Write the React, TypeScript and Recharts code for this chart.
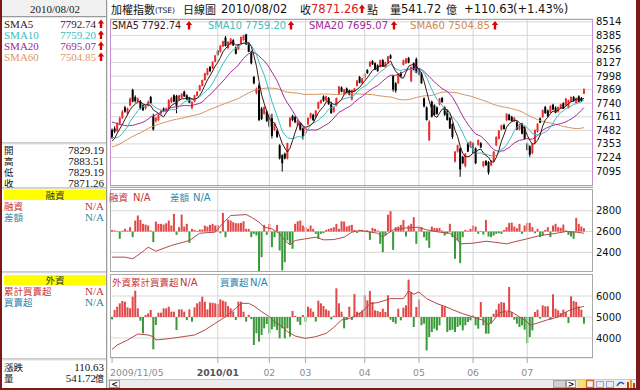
import { ComposedChart, Bar, Line, XAxis, YAxis, CartesianGrid, ReferenceLine } from 'recharts';

const LATIN = '"DejaVu Sans", Verdana, sans-serif';
const CJK = '"Noto Sans CJK TC", "Noto Sans CJK SC", sans-serif';
const SERIF = '"Liberation Serif", "Times New Roman", serif';

// closes before 2009/11/05, only used to seed the moving averages
const priorCloses = [
  7000, 6950, 6890, 6820, 6760, 6850, 6910, 6970, 7020, 7060, 6990, 6950, 6925,
  6880, 6930, 6990, 7040, 7100, 7180, 7240, 7290, 7320, 7350, 7390, 7440, 7480, 7510, 7470, 7440, 7400, 7420, 7470, 7500, 7509,
  7400, 7350, 7380, 7450, 7540, 7600, 7650, 7690, 7720, 7750, 7790, 7770, 7740, 7700, 7650, 7600, 7560, 7510, 7460, 7400, 7360, 7340,
  7300, 7390, 7450,
];

// daily candles 2009/11/05 .. 2010/08/02 : [open, high, low, close]
const candles = [
  [7485, 7500, 7400, 7415], [7500, 7520, 7455, 7470], [7475, 7560, 7465, 7545], [7545, 7615, 7530, 7600], [7600, 7675, 7590, 7660],
  [7700, 7715, 7650, 7660], [7640, 7700, 7625, 7690], [7720, 7795, 7710, 7785], [7866, 7878, 7750, 7755], [7800, 7815, 7745, 7760],
  [7755, 7795, 7740, 7785], [7755, 7770, 7680, 7690], [7720, 7730, 7665, 7675], [7690, 7725, 7680, 7720], [7720, 7765, 7710, 7755],
  [7800, 7810, 7735, 7740], [7620, 7640, 7480, 7490], [7570, 7610, 7555, 7600], [7580, 7635, 7570, 7625], [7640, 7680, 7630, 7670],
  [7690, 7700, 7655, 7665], [7660, 7700, 7650, 7690], [7690, 7780, 7685, 7770], [7750, 7800, 7740, 7790], [7815, 7825, 7750, 7755],
  [7810, 7820, 7645, 7715], [7770, 7820, 7760, 7815], [7790, 7835, 7785, 7830], [7850, 7860, 7800, 7805], [7815, 7825, 7770, 7775],
  [7790, 7800, 7740, 7745], [7695, 7760, 7680, 7750], [7755, 7820, 7750, 7815], [7810, 7855, 7805, 7850], [7860, 7915, 7855, 7910],
  [7905, 7965, 7900, 7960], [7960, 8030, 7955, 8025], [8010, 8075, 8005, 8070], [8085, 8095, 8035, 8045], [8070, 8140, 8065, 8135],
  [8135, 8200, 8130, 8195], [8240, 8250, 8190, 8200], [8230, 8295, 8220, 8290], [8280, 8335, 8275, 8330], [8365, 8380, 8280, 8285],
  [8265, 8330, 8255, 8325], [8300, 8360, 8295, 8355], [8340, 8350, 8285, 8290], [8270, 8280, 8205, 8210], [8255, 8305, 8245, 8300],
  [8310, 8375, 8305, 8370], [8340, 8392, 8335, 8385], [8395, 8400, 8295, 8300], [8310, 8320, 8225, 8230], [8230, 8240, 8110, 8120],
  [7990, 8000, 7920, 7930], [7835, 7890, 7825, 7880], [7910, 7930, 7570, 7580], [7690, 7705, 7580, 7590], [7640, 7710, 7630, 7705],
  [7660, 7670, 7560, 7570], [7630, 7640, 7510, 7520], [7600, 7640, 7405, 7430], [7485, 7550, 7475, 7545], [7480, 7490, 7410, 7420],
  [7340, 7350, 7205, 7215], [7245, 7255, 7090, 7170], [7260, 7270, 7205, 7215], [7215, 7365, 7205, 7360], [7520, 7610, 7510, 7600],
  [7620, 7630, 7570, 7580], [7610, 7620, 7550, 7560], [7530, 7585, 7520, 7575], [7545, 7555, 7480, 7490], [7500, 7510, 7395, 7420],
  [7455, 7515, 7445, 7510], [7540, 7605, 7530, 7600], [7600, 7650, 7590, 7645], [7630, 7640, 7570, 7580], [7610, 7675, 7600, 7670],
  [7690, 7755, 7680, 7750], [7740, 7775, 7735, 7770], [7805, 7815, 7755, 7765], [7765, 7810, 7755, 7805], [7790, 7800, 7725, 7730],
  [7730, 7755, 7640, 7645], [7660, 7710, 7650, 7700], [7720, 7795, 7710, 7790], [7830, 7905, 7820, 7900], [7890, 7900, 7845, 7850],
  [7830, 7875, 7820, 7870], [7880, 7890, 7835, 7840], [7860, 7870, 7815, 7820], [7775, 7870, 7765, 7865], [7850, 7885, 7845, 7880],
  [7905, 7960, 7900, 7955], [7990, 8000, 7930, 7935], [7930, 7980, 7920, 7975], [7975, 8025, 7970, 8020], [8055, 8065, 8020, 8025],
  [8090, 8140, 8085, 8135], [8140, 8150, 8105, 8110], [8120, 8130, 8055, 8060], [8100, 8110, 8040, 8045], [8085, 8155, 8080, 8150],
  [8150, 8160, 8085, 8090], [8085, 8135, 8080, 8130], [8120, 8190, 8115, 8185], [8195, 8205, 8160, 8165], [8000, 8010, 7850, 7870],
  [7930, 7940, 7840, 7860], [7930, 8025, 7925, 8020], [8030, 8040, 7990, 7995], [8105, 8155, 8100, 8150], [8120, 8170, 8115, 8165],
  [8170, 8180, 8120, 8125], [7950, 8090, 7940, 8085], [8120, 8130, 8055, 8060], [8160, 8175, 8025, 8030], [8065, 8075, 8005, 8010],
  [8025, 8035, 7925, 7930], [7787, 7795, 7700, 7710], [7700, 7710, 7575, 7580], [7390, 7580, 7380, 7565], [7755, 7765, 7605, 7612],
  [7720, 7730, 7620, 7630], [7700, 7710, 7630, 7640], [7730, 7790, 7720, 7785], [7790, 7800, 7745, 7750], [7700, 7710, 7620, 7630],
  [7670, 7680, 7575, 7580], [7600, 7610, 7495, 7500], [7540, 7550, 7400, 7420], [7185, 7285, 7175, 7280], [7280, 7345, 7270, 7340],
  [7310, 7320, 7040, 7110], [7230, 7240, 7160, 7170], [7140, 7265, 7130, 7260], [7360, 7370, 7275, 7280], [7325, 7380, 7315, 7375],
  [7360, 7370, 7260, 7265], [7310, 7320, 7160, 7170], [7345, 7395, 7335, 7390], [7360, 7370, 7315, 7320], [7140, 7190, 7130, 7185],
  [7190, 7200, 7145, 7150], [7180, 7190, 7060, 7080], [7150, 7200, 7140, 7195], [7190, 7285, 7180, 7280], [7340, 7425, 7330, 7420],
  [7400, 7485, 7395, 7480], [7490, 7535, 7480, 7530], [7530, 7545, 7490, 7495], [7580, 7645, 7570, 7640], [7630, 7640, 7575, 7580],
  [7610, 7620, 7565, 7570], [7570, 7610, 7560, 7600], [7560, 7570, 7485, 7490], [7490, 7545, 7480, 7540], [7545, 7555, 7445, 7450],
  [7510, 7520, 7395, 7400], [7355, 7365, 7290, 7295], [7330, 7340, 7230, 7250], [7265, 7360, 7255, 7355], [7360, 7490, 7350, 7485],
  [7470, 7550, 7460, 7545], [7595, 7605, 7550, 7555], [7610, 7680, 7600, 7675], [7705, 7715, 7640, 7645], [7670, 7680, 7610, 7615],
  [7650, 7720, 7640, 7715], [7725, 7735, 7675, 7680], [7700, 7710, 7645, 7650], [7660, 7710, 7650, 7705], [7690, 7735, 7685, 7730],
  [7740, 7750, 7685, 7690], [7720, 7790, 7715, 7785], [7695, 7775, 7690, 7770], [7755, 7805, 7750, 7800], [7800, 7810, 7755, 7760],
  [7740, 7795, 7735, 7790], [7805, 7815, 7750, 7755], [7790, 7800, 7750, 7760.63], [7829.19, 7883.51, 7829.19, 7871.26],
];

// 融資 pane: daily bars around the 2600 line, plus its slow line as [day index, value]
const marginBars = [
  2615, 2610, 2605, 2530, 2608, 2626, 2610, 2642, 2546, 2706,
  2754, 2712, 2674, 2667, 2658, 2610, 2498, 2696, 2674, 2674,
  2667, 2680, 2706, 2658, 2770, 2568, 2642, 2763, 2648, 2674,
  2491, 2626, 2616, 2606, 2619, 2619, 2658, 2648, 2664, 2674,
  2658, 2664, 2584, 2779, 2546, 2715, 2706, 2690, 2680, 2680,
  2683, 2699, 2626, 2626, 2546, 2578, 2562, 2220, 2354, 2664,
  2568, 2674, 2450, 2546, 2664, 2418, 2226, 2305, 2514, 2482,
  2434, 2674, 2699, 2706, 2658, 2642, 2626, 2658, 2626, 2578,
  2530, 2578, 2584, 2616, 2626, 2632, 2642, 2674, 2626, 2699,
  2696, 2648, 2658, 2664, 2616, 2587, 2616, 2616, 2610, 2613,
  2520, 2635, 2626, 2610, 2482, 2402, 2562, 2763, 2795, 2424,
  2642, 2648, 2664, 2712, 2552, 2658, 2674, 2738, 2482, 2635,
  2642, 2546, 2514, 2443, 2648, 2635, 2632, 2635, 2610, 2562,
  2578, 2674, 2546, 2338, 2514, 2296, 2546, 2616, 2608, 2626,
  2658, 2648, 2578, 2606, 2571, 2712, 2552, 2546, 2562, 2578,
  2584, 2578, 2616, 2642, 2683, 2686, 2648, 2632, 2674, 2578,
  2658, 2683, 2683, 2642, 2584, 2626, 2546, 2562, 2616, 2642,
  2546, 2658, 2674, 2642, 2635, 2667, 2610, 2568, 2552, 2530,
  2731, 2674, 2648, 2632,
];
const marginLine = [
  [0, 2354], [5, 2354], [8, 2338], [12, 2408], [14, 2450], [17, 2411], [23, 2466], [30, 2514], [34, 2584], [40, 2594],
  [43, 2680], [46, 2754], [52, 2763], [54, 2738], [57, 2690], [59, 2642], [62, 2626], [65, 2578], [67, 2514], [69, 2472],
  [71, 2514], [75, 2530], [79, 2546], [82, 2520], [86, 2523], [90, 2546], [93, 2594], [96, 2610], [103, 2584], [105, 2546],
  [107, 2584], [109, 2616], [114, 2635], [119, 2642], [122, 2616], [127, 2594], [131, 2584], [134, 2520], [135, 2482], [140, 2488],
  [145, 2507], [148, 2498], [153, 2482], [157, 2507], [161, 2530], [166, 2562], [171, 2578], [176, 2600], [180, 2594], [183, 2584],
];

// 外資 pane: daily bars around the 5000 line, plus its slow line
const foreignBars = [
  4889, 5333, 5492, 5651, 5762, 5730, 5460, 5413, 5968, 6254,
  5413, 4825, 4222, 5095, 5175, 5333, 3461, 4619, 5206, 5206,
  5413, 5413, 5492, 5254, 5254, 4381, 5365, 5365, 5254, 4857,
  5365, 4778, 5460, 5651, 5730, 5968, 5730, 5365, 5682, 5682,
  5651, 5619, 5841, 5778, 5730, 5524, 5413, 5254, 4857, 5730,
  5730, 5254, 4778, 5095, 4900, 3667, 4222, 3826, 4143, 4460,
  4667, 4222, 4413, 4540, 4381, 3984, 4460, 3984, 4460, 4064,
  5286, 5050, 4778, 4619, 5095, 4778, 5492, 5413, 5254, 4778,
  5778, 5651, 5524, 5365, 5302, 4889, 5060, 6365, 5651, 5254,
  4460, 4857, 5492, 4857, 6095, 5254, 5206, 5318, 6034, 5795,
  6240, 5716, 5318, 5286, 5239, 5398, 5239, 6034, 4873, 4761,
  4682, 5398, 4841, 5445, 5556, 6780, 6193, 4523, 5477, 5826,
  4603, 4682, 3410, 4046, 4285, 4444, 4364, 4603, 5556, 5509,
  4285, 4364, 4396, 4285, 4523, 4603, 4364, 4603, 4762, 4841,
  5080, 4603, 4444, 5715, 4603, 4205, 4205, 4682, 5159, 5350,
  5636, 5715, 5683, 5238, 6430, 5238, 4873, 4682, 4523, 4603,
  4396, 3760, 4046, 4364, 5238, 5350, 4920, 5556, 5509, 5509,
  4873, 6081, 5397, 5318, 5191, 5350, 5238, 4714, 5986, 5763,
  5716, 5509, 5350, 4682,
];
const foreignLine = [
  [0, 3461], [2, 3667], [6, 3905], [10, 4191], [14, 4143], [16, 4064], [17, 3905], [23, 3984], [32, 4143], [36, 4381],
  [40, 4698], [44, 5016], [48, 5413], [50, 5651], [53, 5651], [55, 5524], [58, 5254], [61, 5016], [63, 4778], [66, 4540],
  [68, 4302], [71, 4095], [75, 3984], [79, 4064], [83, 4222], [86, 4508], [89, 4857], [92, 4937], [94, 5016], [97, 5260],
  [100, 5636], [103, 5684], [108, 5875], [113, 5875], [115, 6240], [117, 6081], [119, 6193], [122, 5875], [126, 5636], [129, 5509],
  [132, 5350], [136, 5159], [140, 5000], [144, 4841], [146, 4634], [148, 4841], [150, 5191], [153, 5286], [155, 5239], [158, 5000],
  [161, 4762], [162, 4603], [165, 4714], [169, 4873], [173, 5000], [176, 5239], [178, 5350], [182, 5477], [183, 5509],
];

const monthTicks = [0, 41, 61, 75, 98, 119, 140, 161];
const monthLabels = ['2009/11/05', '2010/01', '02', '03', '04', '05', '06', '07'];
const priceTicks = [7095, 7224, 7353, 7482, 7611, 7740, 7869, 7998, 8127, 8256, 8385, 8514];
const marginTicks = [2400, 2600, 2800];
const foreignTicks = [4000, 5000, 6000];

const allCloses = [...priorCloses, ...candles.map((c) => c[3])];
const sma = (n: number, i: number) => {
  const end = priorCloses.length + i;
  let s = 0;
  for (let k = end - n + 1; k <= end; k++) s += allCloses[k];
  return s / n;
};

const priceData = candles.map((c, i) => ({
  i, open: c[0], high: c[1], low: c[2], close: c[3],
  s5: sma(5, i), s10: sma(10, i), s20: sma(20, i), s60: sma(60, i),
}));

const toPane = (bars: number[], line: number[][]) => {
  const m = new Map(line.map(([i, v]) => [i, v]));
  return bars.map((v, i) => ({ i, v, line: m.has(i) ? m.get(i) : null }));
};
const marginData = toPane(marginBars, marginLine);
const foreignData = toPane(foreignBars, foreignLine);

const XDOMAIN = [-0.8, 186.5];

const Candle = (p: any) => {
  const { x, y, width, height, payload } = p;
  if (!payload || height == null || isNaN(height)) return null;
  const top = Math.min(y, y + height);
  const span = Math.abs(height);
  const k = span / (payload.high - payload.low);
  const py = (v: number) => top + (payload.high - v) * k;
  const cx = x + width / 2;
  const up = payload.close >= payload.open;
  const color = up ? '#e52d2d' : '#000000';
  const bt = py(Math.max(payload.open, payload.close));
  const bb = py(Math.min(payload.open, payload.close));
  return (
    <g>
      <line x1={cx} x2={cx} y1={top} y2={top + span} stroke={color} strokeWidth={1} />
      <rect x={cx - 1} y={bt} width={2} height={Math.max(bb - bt, 1)} fill={color} />
    </g>
  );
};

const subBar = (base: number) => (p: any) => {
  if (!p.payload || p.height == null || isNaN(p.height)) return null;
  const top = Math.min(p.y, p.y + p.height);
  const cx = p.x + p.width / 2;
  const up = p.payload.v >= base;
  return <rect x={cx - 1} y={top} width={2} height={Math.abs(p.height)} fill={up ? '#e24848' : '#3a9a3a'} />;
};

const DateTick = (p: any) => {
  const idx = monthTicks.indexOf(p.payload.value);
  const first = idx === 0;
  const bold = p.payload.value === 41;
  return (
    <text x={first ? p.x - 2 : p.x} y={p.y + 7} textAnchor={first ? 'start' : 'middle'} dominantBaseline="central"
      fontSize={9.3} fontFamily={LATIN} fontWeight={bold ? 'bold' : 'normal'} fill={bold ? '#555' : '#8c8c8c'}>
      {monthLabels[idx]}
    </text>
  );
};

const yTick = { fontSize: 10, fill: '#111', fontFamily: LATIN };

const Up = ({ x, y }: { x: number; y: number }) => (
  <path d={`M${x} ${y - 4.5} L${x + 3.2} ${y - 0.5} L${x + 1.2} ${y - 0.5} L${x + 1.2} ${y + 4} L${x - 1.2} ${y + 4} L${x - 1.2} ${y - 0.5} L${x - 3.2} ${y - 0.5} Z`} fill="#e00000" />
);

const T = (p: any) => (
  <text x={p.x} y={p.y} fontSize={p.size ?? 10} fontFamily={p.f ?? LATIN} fill={p.c ?? '#111'} textAnchor={p.a ?? 'start'}
    dominantBaseline="central" fontWeight={p.w ?? 'normal'} textLength={p.len} lengthAdjust={p.len ? 'spacingAndGlyphs' : undefined}>
    {p.children}
  </text>
);

const Sep = ({ y }: { y: number }) => (
  <g>
    <line x1={2} x2={106} y1={y} y2={y} stroke="#9a9a9a" />
    <line x1={2} x2={106} y1={y + 1} y2={y + 1} stroke="#e4e4e4" />
  </g>
);

const App = () => {
  return (
    <div style={{ position: 'absolute', left: 0, top: 0, width: 640, height: 390, background: '#fff', overflow: 'hidden' }}>
      {/* price pane */}
      <div style={{ position: 'absolute', left: 0, top: 9 }}>
        <ComposedChart width={640} height={178} data={priceData} margin={{ top: 10, right: 0, bottom: 0, left: 110 }}>
          <CartesianGrid stroke="#d8d8d8" vertical={false} />
          <XAxis dataKey="i" type="number" domain={XDOMAIN} ticks={monthTicks} hide />
          <YAxis orientation="right" width={47} domain={[6943, 8541.5]} ticks={priceTicks} interval={0}
            tickLine={false} axisLine={false} tickSize={0} tickMargin={3} tick={yTick} />
          {monthTicks.slice(1).map((t) => <ReferenceLine key={t} x={t} stroke="#d4d4d4" />)}
          <Bar dataKey={(d: any) => [d.low, d.high]} shape={Candle} isAnimationActive={false} />
          <Line dataKey="s60" type="linear" stroke="#d4925c" strokeWidth={1} dot={false} isAnimationActive={false} />
          <Line dataKey="s20" type="linear" stroke="#a02a98" strokeWidth={1} dot={false} isAnimationActive={false} />
          <Line dataKey="s10" type="linear" stroke="#3cbcc0" strokeWidth={1} dot={false} isAnimationActive={false} />
          <Line dataKey="s5" type="linear" stroke="#3c1414" strokeWidth={1} dot={false} isAnimationActive={false} />
        </ComposedChart>
      </div>

      {/* 融資 pane */}
      <div style={{ position: 'absolute', left: 0, top: 189 }}>
        <ComposedChart width={640} height={83} data={marginData} margin={{ top: 0, right: 0, bottom: 0, left: 110 }}>
          <CartesianGrid stroke="#d8d8d8" vertical={false} />
          <XAxis dataKey="i" type="number" domain={XDOMAIN} ticks={monthTicks} hide />
          <YAxis orientation="right" width={47} domain={[2211, 3009]} ticks={marginTicks} interval={0}
            tickLine={false} axisLine={false} tickSize={0} tickMargin={3} tick={yTick} />
          {monthTicks.slice(1).map((t) => <ReferenceLine key={t} x={t} stroke="#d4d4d4" />)}
          <Bar dataKey={(d: any) => [2600, d.v]} shape={subBar(2600)} isAnimationActive={false} />
          <Line dataKey="line" type="linear" connectNulls stroke="#b24a4a" strokeWidth={1} dot={false} isAnimationActive={false} />
        </ComposedChart>
      </div>

      {/* 外資 pane with the date axis */}
      <div style={{ position: 'absolute', left: 0, top: 274 }}>
        <ComposedChart width={640} height={106} data={foreignData} margin={{ top: 0, right: 0, bottom: 0, left: 110 }}>
          <CartesianGrid stroke="#d8d8d8" vertical={false} />
          <XAxis dataKey="i" type="number" domain={XDOMAIN} ticks={monthTicks} interval={0} height={22}
            tickSize={5} tickMargin={2} axisLine={false} tickLine={{ stroke: '#a8a8a8' }} tick={DateTick} />
          <YAxis orientation="right" width={47} domain={[3048, 7048]} ticks={foreignTicks} interval={0}
            tickLine={false} axisLine={false} tickSize={0} tickMargin={3} tick={yTick} />
          {monthTicks.slice(1).map((t) => <ReferenceLine key={t} x={t} stroke="#d4d4d4" />)}
          <Bar dataKey={(d: any) => [5000, d.v]} shape={subBar(5000)} isAnimationActive={false} />
          <Line dataKey="line" type="linear" connectNulls stroke="#b24a4a" strokeWidth={1} dot={false} isAnimationActive={false} />
        </ComposedChart>
      </div>

      <svg width={640} height={390} style={{ position: 'absolute', left: 0, top: 0, pointerEvents: 'none' }}>
        {/* pane borders */}
        <rect x={110.5} y={19.5} width={482} height={166} fill="none" stroke="#c88ed0" />
        <line x1={110} x2={593} y1={187.5} y2={187.5} stroke="#c88ed0" />
        <rect x={110.5} y={189.5} width={482} height={82} fill="none" stroke="#a8a8a8" />
        <rect x={110.5} y={274.5} width={482} height={83} fill="none" stroke="#a8a8a8" />

        {/* title bar */}
        <T x={111} y={9} f={CJK} size={11}>加權指數</T>
        <T x={155} y={10} size={7.5}>(TSE)</T>
        <T x={183} y={9} f={CJK} size={11}>日線圖</T>
        <T x={221} y={9} size={11.5}>2010/08/02</T>
        <T x={300} y={9} f={CJK} size={11}>收</T>
        <T x={311} y={9} size={11.5} c="#d41c1c">7871.26</T>
        <Up x={362} y={9} />
        <T x={367} y={9} f={CJK} size={11}>點</T>
        <T x={390} y={9} f={CJK} size={11}>量</T>
        <T x={401} y={9} size={11.5}>541.72</T>
        <T x={446} y={9} f={CJK} size={11}>億</T>
        <T x={464} y={9} size={11.5}>+110.63</T>
        <T x={513} y={9} size={11.5}>(+1.43%)</T>

        {/* price pane legend */}
        <T x={112} y={25.5} size={9.6} c="#3a1616" len={69}>SMA5 7792.74</T>
        <Up x={189} y={25.5} />
        <T x={208} y={25.5} size={9.6} c="#3cbcc0" len={78}>SMA10 7759.20</T>
        <Up x={291} y={25.5} />
        <T x={309} y={25.5} size={9.6} c="#a02a98" len={79}>SMA20 7695.07</T>
        <Up x={394} y={25.5} />
        <T x={410} y={25.5} size={9.6} c="#d08850" len={80}>SMA60 7504.85</T>
        <Up x={495} y={25.5} />

        {/* sub pane legends */}
        <T x={109} y={197} f={CJK} size={9.5} c="#c83434">融資</T>
        <T x={133} y={197} size={10} c="#c83434">N/A</T>
        <T x={170} y={197} f={CJK} size={9.5} c="#2f8aa8">差額</T>
        <T x={193} y={197} size={10} c="#2f8aa8">N/A</T>
        <T x={112} y={282} f={CJK} size={9.5} c="#c83434">外資累計買賣超</T>
        <T x={180} y={282} size={10} c="#c83434">N/A</T>
        <T x={220} y={282} f={CJK} size={9.5} c="#2f7fa8">買賣超</T>
        <T x={250} y={282} size={10} c="#2f7fa8">N/A</T>

        {/* left info panel */}
        <rect x={2} y={0} width={105} height={16} fill="#f1f1f1" />
        <Sep y={16.5} />
        <T x={55} y={8.5} f={SERIF} size={11} a="middle" c="#222">2010/08/02</T>
        <T x={4} y={24} f={SERIF} size={11} c="#3a1616">SMA5</T>
        <T x={96} y={24} f={SERIF} size={11} a="end" c="#3a1616">7792.74</T>
        <Up x={101} y={24} />
        <T x={4} y={35} f={SERIF} size={11} c="#3cbcc0">SMA10</T>
        <T x={96} y={35} f={SERIF} size={11} a="end" c="#3cbcc0">7759.20</T>
        <Up x={101} y={35} />
        <T x={4} y={46} f={SERIF} size={11} c="#a02a98">SMA20</T>
        <T x={96} y={46} f={SERIF} size={11} a="end" c="#a02a98">7695.07</T>
        <Up x={101} y={46} />
        <T x={4} y={57} f={SERIF} size={11} c="#e09868">SMA60</T>
        <T x={96} y={57} f={SERIF} size={11} a="end" c="#e09868">7504.85</T>
        <Up x={101} y={57} />

        <Sep y={143} />
        <T x={4} y={150} f={CJK} size={9.5}>開</T>
        <T x={104} y={150} f={SERIF} size={11} a="end">7829.19</T>
        <T x={4} y={161} f={CJK} size={9.5}>高</T>
        <T x={104} y={161} f={SERIF} size={11} a="end">7883.51</T>
        <T x={4} y={172} f={CJK} size={9.5}>低</T>
        <T x={104} y={172} f={SERIF} size={11} a="end">7829.19</T>
        <T x={4} y={183} f={CJK} size={9.5}>收</T>
        <T x={104} y={183} f={SERIF} size={11} a="end">7871.26</T>

        <Sep y={188} />
        <rect x={4} y={190} width={102} height={10} fill="#ffff00" />
        <T x={55} y={195} f={CJK} size={9.5} a="middle" c="#333">融資</T>
        <T x={4} y={206} f={CJK} size={9.5} c="#c83434">融資</T>
        <T x={104} y={206} f={SERIF} size={11} a="end" c="#c83434">N/A</T>
        <T x={4} y={217} f={CJK} size={9.5} c="#2f8aa8">差額</T>
        <T x={104} y={217} f={SERIF} size={11} a="end" c="#2f8aa8">N/A</T>

        <Sep y={272} />
        <rect x={4} y={275} width={102} height={10} fill="#ffff00" />
        <T x={55} y={280} f={CJK} size={9.5} a="middle" c="#333">外資</T>
        <T x={4} y={291} f={CJK} size={9.5} c="#c83434">累計買賣超</T>
        <T x={104} y={291} f={SERIF} size={11} a="end" c="#c83434">N/A</T>
        <T x={4} y={302} f={CJK} size={9.5} c="#2f7fa8">買賣超</T>
        <T x={104} y={302} f={SERIF} size={11} a="end" c="#2f7fa8">N/A</T>

        <Sep y={359} />
        <T x={4} y={367} f={CJK} size={9.5}>漲跌</T>
        <T x={104} y={367} f={SERIF} size={11} a="end">110.63</T>
        <T x={4} y={378} f={CJK} size={9.5}>量</T>
        <T x={96} y={378} f={SERIF} size={11} a="end">541.72</T>
        <T x={104} y={378} f={CJK} size={9} a="end">億</T>

        <line x1={106.5} x2={106.5} y1={0} y2={388} stroke="#9a9a9a" />
        <line x1={107.5} x2={107.5} y1={0} y2={388} stroke="#e6e6e6" />

        {/* scroll bar */}
        <rect x={108} y={379} width={528} height={9} fill="#ececec" />
        <line x1={108} x2={636} y1={379.5} y2={379.5} stroke="#c8c8c8" />
        <rect x={109.5} y={380.5} width={10} height={7} fill="#fbfbfb" stroke="#9a9a9a" />
        <T x={114.5} y={384} size={8} a="middle" w="bold">&lt;</T>
        <rect x={553.5} y={380.5} width={12} height={7} fill="#d2d2d2" stroke="#a4a4a4" />
        <rect x={566.5} y={380.5} width={9} height={7} fill="#fbfbfb" stroke="#9a9a9a" />
        <T x={571} y={384} size={8} a="middle" w="bold">&gt;</T>
        <rect x={577} y={380} width={8} height={8} fill="#f2e27a" />
        <rect x={586.5} y={380.5} width={7} height={7} fill="#fff" stroke="#e0651c" strokeWidth={1.5} />
        <rect x={596.5} y={381.5} width={7} height={6} fill="none" stroke="#3a5cc8" strokeDasharray="1 1" />
        <rect x={606.5} y={381.5} width={7} height={6} fill="none" stroke="#3a5cc8" strokeDasharray="1 1" />
        <path d="M617 386 Q620 380 624 384" fill="none" stroke="#2a50c0" strokeWidth={1.5} />
        <rect x={627} y={382} width={2} height={6} fill="#c83a1a" />
        <rect x={630} y={380} width={2} height={8} fill="#e0a020" />
        <rect x={633} y={383} width={2} height={5} fill="#c83a1a" />

        {/* window frame */}
        <rect x={0} y={0} width={2} height={390} fill="#7c1a1a" />
        <rect x={636} y={0} width={4} height={390} fill="#7c1a1a" />
        <rect x={0} y={388} width={640} height={2} fill="#7c1a1a" />
      </svg>
    </div>
  );
};

export default App;
